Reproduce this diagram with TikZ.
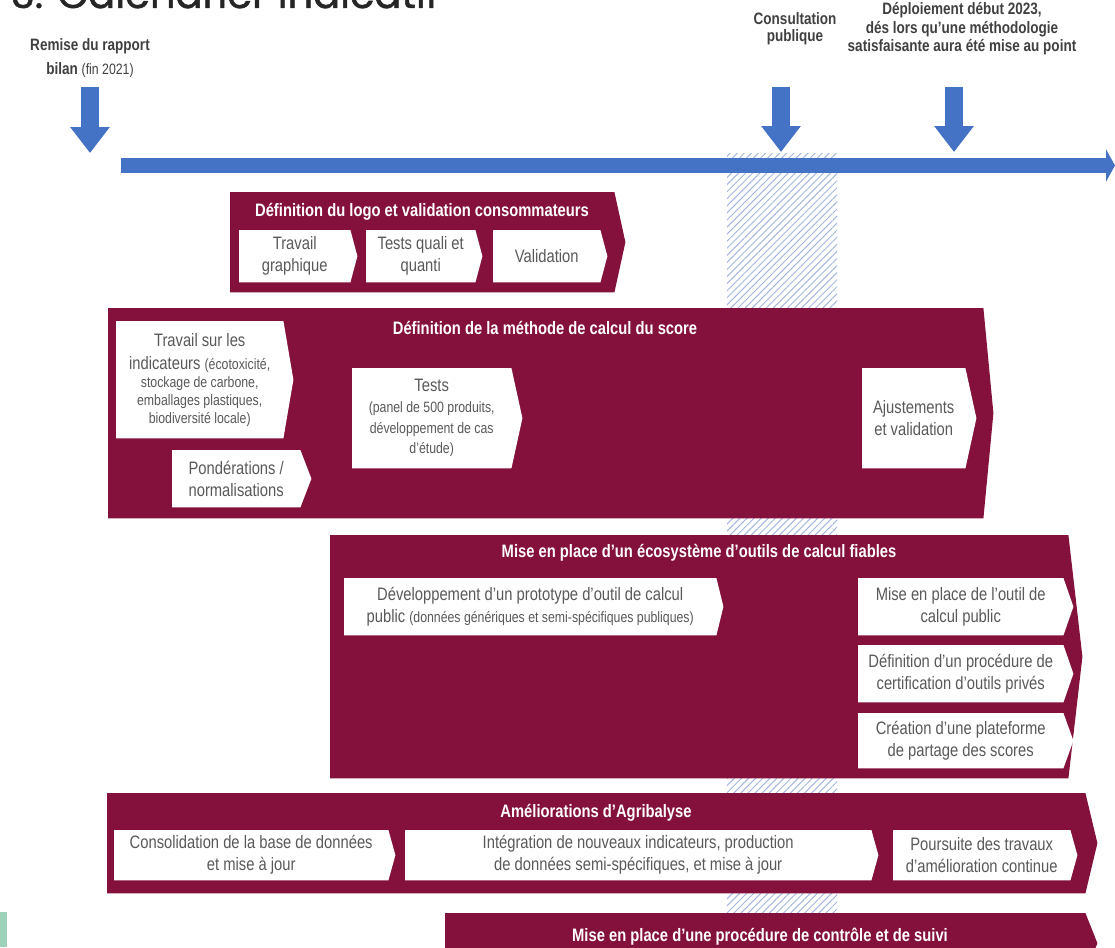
\documentclass[tikz,border=0pt]{standalone}
\usepackage{fontspec}
\setmainfont{Liberation Sans}[FakeStretch=0.82]
\newfontfamily\titlefont{Poppins}[FakeBold=1.2]
\usetikzlibrary{arrows.meta,patterns.meta}
\pgfdeclarelayer{hatchlayer}
\pgfdeclarelayer{boxlayer}
\pgfdeclarelayer{sublayer}
\pgfsetlayers{hatchlayer,boxlayer,sublayer,main}
\definecolor{maroon}{HTML}{84103C}
\definecolor{tlblue}{HTML}{4472C4}
\definecolor{hatchblue}{HTML}{A3B7DE}
\definecolor{subgray}{HTML}{595959}
\definecolor{labgray}{HTML}{404040}
\definecolor{stripgreen}{HTML}{9ED1B9}
\newcommand\fsz[2]{\fontsize{#1pt}{#2pt}\selectfont}
\newcommand\sm{\fsz{15}{18}}
\tikzset{
  subtext/.style={inner sep=0pt, align=center, text=subgray, font=\fsz{18}{22}},
  boxtitle/.style={inner sep=0pt, text=white, font=\bfseries\fsz{18}{22}},
  toplabel/.style={inner sep=0pt, align=center, text=labgray, font=\bfseries\fsz{16.5}{18.5}},
  milestone/.style={tlblue, line width=18pt, -{Triangle[width=38pt,length=26pt]}},
}
\newcommand\mysubbox[7]{%
  \node[subtext, minimum width={(#4-#2)*1pt}, minimum height={(#5-#3)*1pt}, anchor=north west] (#1) at (#2,#3) {#7};
  \begin{pgfonlayer}{sublayer}
    \fill[white] (#1.north west) -- (#1.north east) -- ([xshift=#6pt]#1.east) -- (#1.south east) -- (#1.south west) -- cycle;
  \end{pgfonlayer}}
\newcommand\mybigbox[6]{%
  \node[inner sep=0pt, minimum width={(#4-#2)*1pt}, minimum height={(#5-#3)*1pt}, anchor=north west] (#1) at (#2,#3) {};
  \begin{pgfonlayer}{boxlayer}
    \fill[maroon] (#1.north west) -- (#1.north east) -- ([xshift=#6pt]#1.east) -- (#1.south east) -- (#1.south west) -- cycle;
  \end{pgfonlayer}}
\begin{document}
\begin{tikzpicture}[x=1pt,y=-1pt]
\useasboundingbox (0,0) rectangle (1115,947);
\clip (0,0) rectangle (1115,947);
% title (cut off at top)
\node[font=\titlefont\fsz{40}{42}, text=black!85, anchor=base west, inner sep=0pt] (title) at (11,8) {3. Calendrier indicatif};
% hatched consultation band
\begin{pgfonlayer}{hatchlayer}
  \fill[pattern={Lines[angle=45,distance=5pt,line width=1pt]}, pattern color=hatchblue] (727,153) rectangle (837,913);
\end{pgfonlayer}
% timeline
\coordinate (tl-start) at (121,165.5);
\coordinate (tl-end) at (1115,165.5);
\draw[tlblue, line width=15pt, -{Triangle[width=32pt,length=9pt]}] (tl-start) -- (tl-end);
% milestone labels and arrows
\node[toplabel] (lab-remise) at (90,58) {Remise du rapport\\[6pt]bilan {\mdseries\fsz{15}{16}(fin 2021)}};
\node[toplabel, font=\bfseries\fsz{16.5}{17}] (lab-consult) at (795,29) {Consultation\\publique};
\node[toplabel] (lab-deploy) at (962,29) {Déploiement début 2023,\\dés lors qu'une méthodologie\\satisfaisante aura été mise au point};
\coordinate (a1-top) at (90,87);   \coordinate (a1-tip) at (90,153);
\coordinate (a2-top) at (781,87);  \coordinate (a2-tip) at (781,152);
\coordinate (a3-top) at (954,87);  \coordinate (a3-tip) at (954,152);
\draw[milestone] (a1-top) -- (a1-tip);
\draw[milestone] (a2-top) -- (a2-tip);
\draw[milestone] (a3-top) -- (a3-tip);
% box 1
\mybigbox{b-logo}{230}{192}{614}{292}{11}
\node[boxtitle] (t-logo) at (422,212) {Définition du logo et validation consommateurs};
\mysubbox{s-graph}{239}{230}{350}{282}{7}{Travail\\graphique}
\mysubbox{s-quali}{366}{230}{475}{282}{7}{Tests quali et\\quanti}
\mysubbox{s-valid}{493}{230}{600}{282}{7}{Validation}
% box 2
\mybigbox{b-method}{108}{308}{983}{518}{10}
\node[boxtitle] (t-method) at (545,328) {Définition de la méthode de calcul du score};
\mysubbox{s-ind}{116}{321}{283}{438}{10}{Travail sur les\\[1pt]indicateurs {\sm(écotoxicité,}\\[-4pt]{\sm stockage de carbone,}\\[-4pt]{\sm emballages plastiques,}\\[-4pt]{\sm biodiversité locale)}}
\mysubbox{s-pond}{172}{450}{300}{507}{11}{Pondérations /\\normalisations}
\mysubbox{s-tests}{352}{368}{511}{468}{11}{Tests\\[-1pt]{\sm(panel de 500 produits,}\\[-1pt]{\sm développement de cas}\\[-2pt]{\sm d'étude)}}
\mysubbox{s-ajust}{862}{368}{965}{468}{11}{Ajustements\\et validation}
% box 3
\mybigbox{b-eco}{330}{535}{1068}{778}{14}
\node[boxtitle] (t-eco) at (699,553) {Mise en place d'un écosystème d'outils de calcul fiables};
\mysubbox{s-proto}{344}{578}{716}{635}{7}{Développement d'un prototype d'outil de calcul\\public {\sm(données génériques et semi-spécifiques publiques)}}
\mysubbox{s-outil}{858}{578}{1063}{635}{10}{Mise en place de l'outil de\\calcul public}
\mysubbox{s-certif}{858}{645}{1063}{702}{10}{Définition d'un procédure de\\certification d'outils privés}
\mysubbox{s-plat}{858}{713}{1063}{768}{10}{Création d'une plateforme\\de partage des scores}
% box 4
\mybigbox{b-agri}{107}{793}{1085}{893}{12}
\node[boxtitle] (t-agri) at (596,813) {Améliorations d'Agribalyse};
\mysubbox{s-conso}{114}{830}{388}{880}{7}{Consolidation de la base de données\\et mise à jour}
\mysubbox{s-integ}{405}{830}{871}{880}{7}{Intégration de nouveaux indicateurs, production\\de données semi-spécifiques, et mise à jour}
\mysubbox{s-pours}{893}{830}{1070}{880}{7}{Poursuite des travaux\\d'amélioration continue}
% box 5
\mybigbox{b-ctrl}{445}{913}{1085}{973}{12}
\node[boxtitle] (t-ctrl) at (760,937) {Mise en place d'une procédure de contrôle et de suivi};
% green strip at bottom left
\fill[stripgreen] (0,912) rectangle (7,947);
\end{tikzpicture}
\end{document}
